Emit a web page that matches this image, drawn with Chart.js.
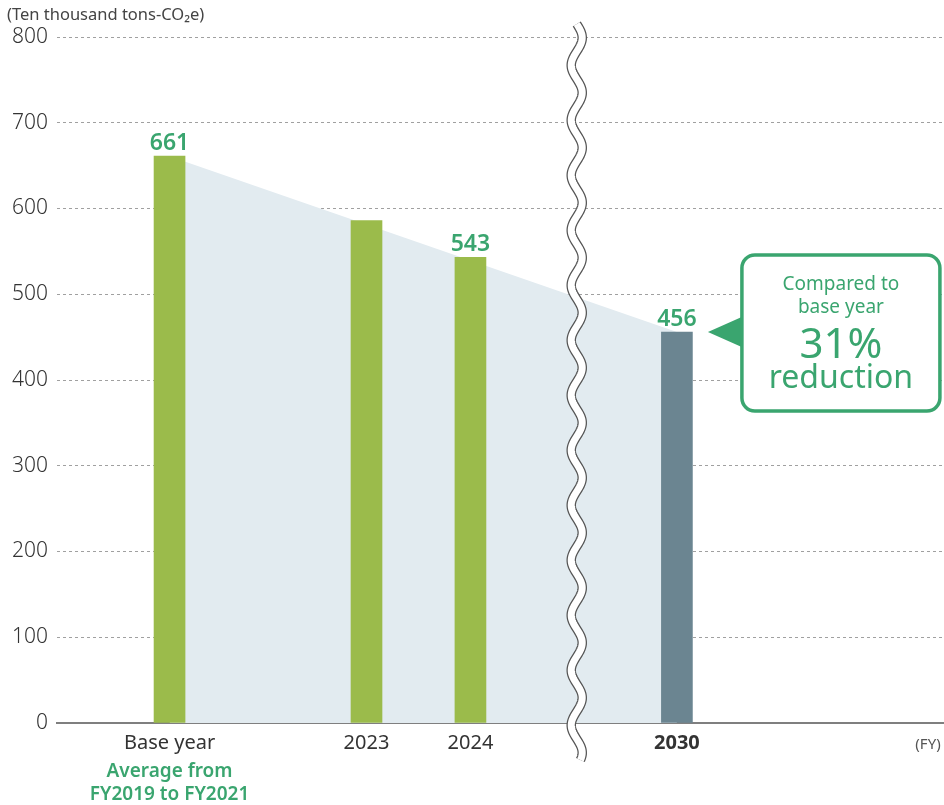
<!DOCTYPE html>
<html>
<head>
<meta charset="utf-8">
<script src="https://cdn.jsdelivr.net/npm/chart.js@4"></script>
<style>
  html, body { margin: 0; padding: 0; background: #ffffff; }
  #wrap { width: 944px; height: 805px; position: relative; }
</style>
</head>
<body>
<div id="wrap"><canvas id="c" width="944" height="805"></canvas></div>
<script>
// ---- data ----
const categories = ['Base year', '2023', '2024', '2030'];
const xPositions = [0, 15.14, 23.13, 39];
const emissions = [661, 586, 543, 456];
const shownValues = ['661', '', '543', '456'];
const barColors = ['#9bbb4b', '#9bbb4b', '#9bbb4b', '#6b8591'];
const yTickValues = [0, 100, 200, 300, 400, 500, 600, 700, 800];
const baseNote = ['Average from', 'FY2019 to FY2021'];
const calloutText = ['Compared to', 'base year', '31%', 'reduction'];
const yTitle = '(Ten thousand tons-CO\u2082e)';
const xUnit = '(FY)';
const breakPos = 31.3;
const xRange = [-8.65, 59.53];

const FONT = '"Noto Sans", "Open Sans", sans-serif';
const GREEN = '#3aa56f';

const barData = xPositions.map((x, i) => ({ x: x, y: emissions[i] }));
const areaData = [
  { x: xPositions[0], y: emissions[0] },
  { x: xPositions[3], y: emissions[3] }
];

const overlay = {
  id: 'overlay',
  afterDatasetsDraw(chart) {
    const ctx = chart.ctx;
    const xs = chart.scales.x;

    // wavy axis break
    const wx = xs.getPixelForValue(breakPos);
    const y0 = 24, y1 = 760, amp = 5.5, period = 55;
    const wave = () => {
      ctx.beginPath();
      for (let y = y0; y <= y1; y += 1) {
        const x = wx + amp * Math.sin((y - y0) / period * 2 * Math.PI);
        if (y === y0) ctx.moveTo(x, y); else ctx.lineTo(x, y);
      }
    };
    ctx.save();
    ctx.lineCap = 'butt';
    wave(); ctx.strokeStyle = '#555'; ctx.lineWidth = 9.5; ctx.stroke();
    wave(); ctx.strokeStyle = '#fff'; ctx.lineWidth = 7; ctx.stroke();
    ctx.restore();

    // value labels
    const meta = chart.getDatasetMeta(1);
    ctx.save();
    ctx.font = '600 23px ' + FONT;
    ctx.fillStyle = GREEN;
    ctx.textAlign = 'center';
    ctx.textBaseline = 'alphabetic';
    meta.data.forEach((el, i) => {
      if (shownValues[i]) ctx.fillText(shownValues[i], el.x, el.y - 6);
    });
    ctx.restore();

    // callout
    const last = meta.data[3];
    const tipX = last.x + 31, tipY = last.y;
    const bx = tipX + 34, bw = 198, by = tipY - 77, bh = 156, r = 13;
    ctx.save();
    ctx.fillStyle = GREEN;
    ctx.beginPath();
    ctx.moveTo(tipX, tipY);
    ctx.lineTo(bx + 2, tipY - 16);
    ctx.lineTo(bx + 2, tipY + 16);
    ctx.closePath();
    ctx.fill();
    ctx.beginPath();
    ctx.roundRect(bx, by, bw, bh, r);
    ctx.fillStyle = '#fff';
    ctx.fill();
    ctx.lineWidth = 3.5;
    ctx.strokeStyle = GREEN;
    ctx.stroke();
    ctx.fillStyle = GREEN;
    ctx.textAlign = 'center';
    ctx.textBaseline = 'middle';
    const cx = bx + bw / 2;
    ctx.font = '19px ' + FONT;
    ctx.fillText(calloutText[0], cx, by + 30);
    ctx.fillText(calloutText[1], cx, by + 53);
    ctx.font = '42px ' + FONT;
    ctx.fillText(calloutText[2], cx, by + 91);
    ctx.font = '32px ' + FONT;
    ctx.fillText(calloutText[3], cx, by + 124);
    ctx.restore();

    // base year note
    ctx.save();
    ctx.fillStyle = GREEN;
    ctx.font = '600 19px ' + FONT;
    ctx.textAlign = 'center';
    ctx.textBaseline = 'middle';
    const bxp = xs.getPixelForValue(xPositions[0]);
    ctx.fillText(baseNote[0], bxp, 772);
    ctx.fillText(baseNote[1], bxp, 795);
    // FY unit
    ctx.fillStyle = '#555';
    ctx.font = '15px ' + FONT;
    ctx.fillText(xUnit, 928, 745);
    // y title
    ctx.fillStyle = '#444';
    ctx.textAlign = 'left';
    ctx.font = '16.5px ' + FONT;
    ctx.fillText(yTitle, 7, 15);
    ctx.restore();
  }
};

new Chart(document.getElementById('c'), {
  type: 'bar',
  data: {
    datasets: [
      {
        type: 'line',
        data: areaData,
        fill: 'origin',
        backgroundColor: '#e2ebf0',
        borderWidth: 0,
        pointRadius: 0,
        tension: 0,
        order: 2
      },
      {
        type: 'bar',
        data: barData,
        backgroundColor: barColors,
        barThickness: 31,
        order: 1
      }
    ]
  },
  options: {
    responsive: false,
    animation: false,
    layout: { padding: { top: 37, right: 0, bottom: 0, left: 0 } },
    plugins: { legend: { display: false }, tooltip: { enabled: false } },
    scales: {
      x: {
        type: 'linear',
        offset: false,
        min: xRange[0],
        max: xRange[1],
        grid: { display: false, drawTicks: false, offset: false },
        border: { display: true, color: '#7f7f7f', width: 2 },
        afterBuildTicks: (scale) => {
          scale.ticks = xPositions.map(v => ({ value: v }));
        },
        afterFit: (scale) => { scale.height = 82; },
        ticks: {
          autoSkip: false,
          maxRotation: 0,
          padding: 8,
          color: '#333',
          font: (c) => ({ family: FONT, size: 20, weight: c.index === 3 ? 'bold' : 'normal' }),
          callback: (v, i) => categories[i]
        }
      },
      y: {
        min: 0,
        max: 800,
        afterBuildTicks: (scale) => {
          scale.ticks = yTickValues.map(v => ({ value: v }));
        },
        afterFit: (scale) => { scale.width = 57; },
        grid: {
          drawTicks: false,
          lineWidth: 1,
          color: (c) => (c.tick && c.tick.value === 0) ? 'rgba(0,0,0,0)' : '#a0a0a0'
        },
        border: { display: false, dash: [3, 3] },
        ticks: {
          padding: 9,
          color: '#333',
          font: { family: FONT, size: 21, weight: '300' }
        }
      }
    }
  },
  plugins: [overlay]
});
</script>
</body>
</html>
